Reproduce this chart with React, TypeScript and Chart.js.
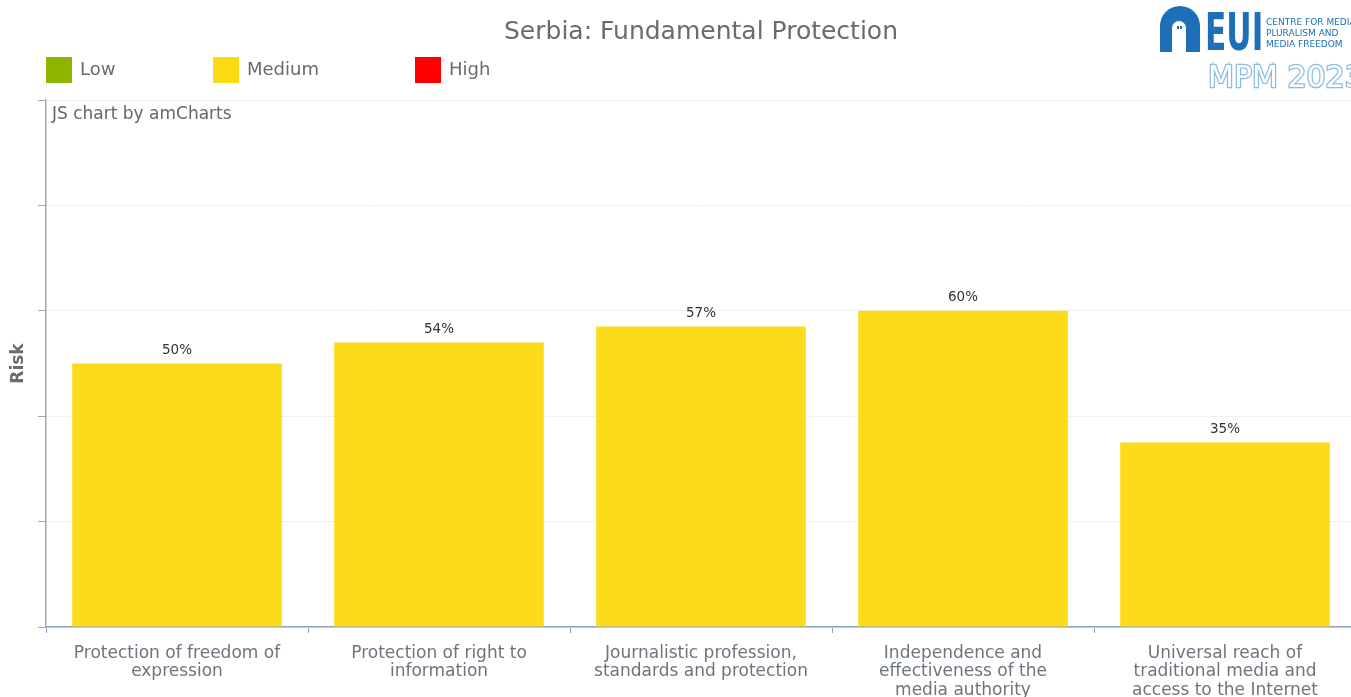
import React, { useEffect, useRef } from "react";
import { Chart, registerables } from "chart.js";

Chart.register(...registerables);

const chartTitle = "Serbia: Fundamental Protection";
const categories: string[][] = [
  ["Protection of freedom of", "expression"],
  ["Protection of right to", "information"],
  ["Journalistic profession,", "standards and protection"],
  ["Independence and", "effectiveness of the", "media authority"],
  ["Universal reach of", "traditional media and", "access to the Internet"],
];
const riskValues = [50, 54, 57, 60, 35];
const valueLabels = ["50%", "54%", "57%", "60%", "35%"];
const legendLabels = ["Low", "Medium", "High"];
const legendColors = ["#8db600", "#fcdb15", "#ff0000"];
const barColor = "#fcdb1a";
const yMin = 0;
const yMax = 100;
const yStep = 20;

const FONT = "'DejaVu Sans', Verdana, sans-serif";

const decorPlugin = {
  id: "decor",
  afterDraw(chart: any) {
    const ctx: CanvasRenderingContext2D = chart.ctx;
    ctx.save();
    // Title
    ctx.fillStyle = "#6b6b6b";
    ctx.font = `25px ${FONT}`;
    ctx.textAlign = "center";
    ctx.textBaseline = "middle";
    ctx.fillText(chartTitle, 701, 32);

    // Legend
    const legendX = [46, 213, 415];
    ctx.textAlign = "left";
    ctx.font = `18px ${FONT}`;
    legendLabels.forEach((lab, i) => {
      ctx.fillStyle = legendColors[i];
      ctx.fillRect(legendX[i], 57, 26, 26);
      ctx.fillStyle = "#6b6b6b";
      ctx.fillText(lab, legendX[i] + 34, 70);
    });

    // watermark text
    ctx.font = `17px ${FONT}`;
    ctx.fillStyle = "#666";
    ctx.fillText("JS chart by amCharts", 52, 115);

    // value labels
    const meta = chart.getDatasetMeta(0);
    ctx.font = `13.5px ${FONT}`;
    ctx.fillStyle = "#333";
    ctx.textAlign = "center";
    meta.data.forEach((bar: any, i: number) => {
      ctx.fillText(valueLabels[i], bar.x, bar.y - 13);
    });

    // Logo
    const blue = "#1d6fb8";
    ctx.fillStyle = blue;
    ctx.beginPath();
    ctx.moveTo(1160, 52);
    ctx.lineTo(1160, 26);
    ctx.arc(1180, 26, 20, Math.PI, 0);
    ctx.lineTo(1200, 52);
    ctx.closePath();
    ctx.fill();
    ctx.fillStyle = "#ffffff";
    ctx.beginPath();
    ctx.moveTo(1172, 52);
    ctx.lineTo(1172, 28);
    ctx.arc(1179, 28, 7, Math.PI, 0);
    ctx.lineTo(1186, 52);
    ctx.closePath();
    ctx.fill();
    ctx.fillStyle = blue;
    ctx.fillRect(1177, 26, 2, 3);
    ctx.fillRect(1180, 26, 2, 3);

    ctx.save();
    ctx.translate(1205, 50);
    ctx.scale(0.6, 1);
    ctx.font = `bold 52px ${FONT}`;
    ctx.textAlign = "left";
    ctx.textBaseline = "alphabetic";
    ctx.fillStyle = blue;
    ctx.fillText("EUI", 0, 0);
    ctx.restore();

    ctx.font = `9px ${FONT}`;
    ctx.fillStyle = blue;
    ctx.textAlign = "left";
    ctx.textBaseline = "middle";
    ctx.fillText("CENTRE FOR MEDIA", 1266, 23);
    ctx.fillText("PLURALISM AND", 1266, 34);
    ctx.fillText("MEDIA FREEDOM", 1266, 45);

    ctx.font = `30px ${FONT}`;
    ctx.textBaseline = "alphabetic";
    ctx.lineWidth = 2.5;
    ctx.strokeStyle = "#8dbbe0";
    ctx.strokeText("MPM 2023", 1208, 87);
    ctx.fillStyle = "#ffffff";
    ctx.fillText("MPM 2023", 1208, 87);
    ctx.restore();
  },
};

export default function App() {
  const canvasRef = useRef<HTMLCanvasElement | null>(null);

  useEffect(() => {
    if (!canvasRef.current) return;
    const chart = new Chart(canvasRef.current, {
      type: "bar",
      data: {
        labels: categories,
        datasets: [
          {
            label: "Risk",
            data: riskValues,
            backgroundColor: barColor,
            borderWidth: 0,
            barPercentage: 0.8,
            categoryPercentage: 1,
          },
        ],
      },
      options: {
        animation: false,
        responsive: false,
        devicePixelRatio: 1,
        layout: { padding: { top: 100, left: 0, right: 0, bottom: 0 } },
        plugins: {
          legend: { display: false },
          title: { display: false },
          tooltip: { enabled: false },
        },
        scales: {
          x: {
            afterFit: (scale: any) => {
              scale.height = 70;
            },
            grid: {
              display: true,
              drawOnChartArea: false,
              offset: true,
              tickLength: 6,
              color: "#8aa4bb",
            },
            border: { color: "#8aa4bb", width: 1.5 },
            ticks: {
              color: "#6c757e",
              font: { family: FONT, size: 17, lineHeight: 1.09 },
              padding: 11,
              maxRotation: 0,
              autoSkip: false,
            },
          },
          y: {
            min: yMin,
            max: yMax,
            afterFit: (scale: any) => {
              scale.width = 46;
            },
            ticks: { stepSize: yStep, display: false },
            grid: {
              color: "#f0f0f0",
              tickColor: "#a0aab4",
              tickLength: 8,
            },
            border: { color: "#a0aab4", width: 1.5 },
            title: {
              display: true,
              text: "Risk",
              color: "#6b6b6b",
              font: { family: FONT, size: 17, weight: "bold" },
              padding: { top: 8, bottom: 0 },
            },
          },
        },
      },
      plugins: [decorPlugin],
    } as any);
    return () => chart.destroy();
  }, []);

  return (
    <div
      style={{
        position: "fixed",
        left: 0,
        top: 0,
        width: 1351,
        height: 697,
        overflow: "hidden",
        background: "#fff",
      }}
    >
      <canvas ref={canvasRef} width={1356} height={697} style={{ display: "block" }} />
    </div>
  );
}
